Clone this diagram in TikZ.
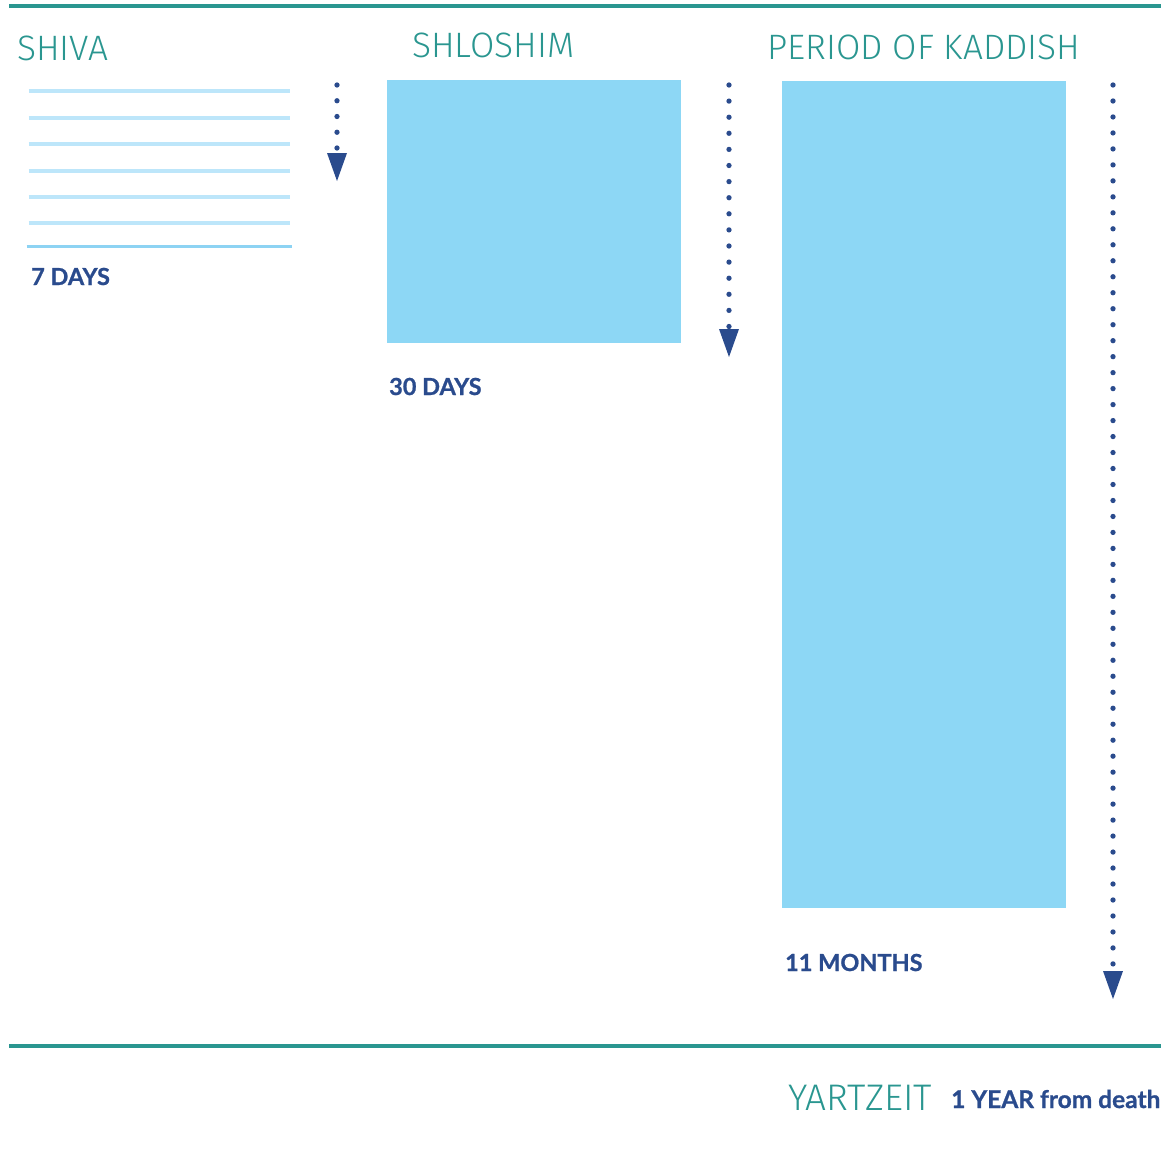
\documentclass[tikz,border=0pt]{standalone}
\usepackage{fontspec}
\setmainfont{Fira Sans}
\newfontfamily\thinfont{Fira Sans Light}
\newfontfamily\heavyfont{Lato}[BoldFeatures={FakeBold=0.9}]
\usetikzlibrary{arrows.meta,positioning}
\definecolor{kteal}{HTML}{2A9690}
\definecolor{kblue}{HTML}{2A4B8D}
\definecolor{kpale}{HTML}{BDE6FA}
\definecolor{kline}{HTML}{8DD3F3}
\definecolor{kbox}{HTML}{8DD7F5}
\begin{document}
\begin{tikzpicture}[
                    x=1pt,y=-1pt,
                    >=latex,
                    title/.style={anchor=base west,inner sep=0pt,text=kteal,font=\thinfont\fontsize{35.3}{35}\selectfont},
                    span/.style={anchor=base west,inner sep=0pt,text=kblue,font=\heavyfont\bfseries\fontsize{23.5}{24}\selectfont},
                    period/.style={fill=kbox,draw=none,inner sep=0pt,anchor=north west},
                    rule/.style={kteal,line width=4.5pt},
                    dayline/.style={kpale,line width=4pt},
                    dotarrow/.style={kblue,line width=5.3pt,line cap=round,dash pattern=on 0pt off #1,
                        -{Triangle[length=28pt,width=20pt,line width=0pt]}}
                ]
                \useasboundingbox (0,0) rectangle (1161,1153);
                % Blocks
                \node [title] (shiva) at (17,61) {SHIVA};
                \node [title] (shloshim) at (412,58) {SHLOSHIM};
                \node [title] (kaddish) at (767,60) {PERIOD OF KADDISH};
                \node [period,minimum width=294pt,minimum height=263pt] (shloshimbox) at (387,80) {};
                \node [period,minimum width=284pt,minimum height=827pt] (kaddishbox) at (782,81) {};
                \node [span] (sevendays) at (31,285) {7 DAYS};
                \node [span] (thirtydays) at (389,395) {30 DAYS};
                \node [span] (elevenmonths) at (785,971) {11 MONTHS};
                \node [title,font=\thinfont\fontsize{37}{37}\selectfont] (yartzeit) at (788,1110) {YARTZEIT};
                \node [span,font=\heavyfont\bfseries\fontsize{24.5}{25}\selectfont] (oneyear) at (951,1108) {1 YEAR from death};

                % Shiva days
                \foreach \y in {91.5,117.8,144.2,170.6,197,223.3}
                    \draw [dayline] (28.5,\y) -- (289.5,\y);
                \draw [kline,line width=2.5pt] (26.5,246.5) -- (291.5,246.5);

                % Rules
                \coordinate (topl) at (9,6);
                \coordinate (topr) at (1161,6);
                \coordinate (botl) at (9,1046);
                \coordinate (botr) at (1161,1046);
                \draw [rule] (topl) -- (topr);
                \draw [rule] (botl) -- (botr);

                % Connections
                \coordinate (s1) at (337,85);
                \coordinate (e1) at (337,181);
                \coordinate (s2) at (729,85);
                \coordinate (e2) at (729,357);
                \coordinate (s3) at (1113,85);
                \coordinate (e3) at (1113,999);
                \draw [dotarrow=15.75pt] (s1) -- (e1);
                \draw [dotarrow=16.1pt] (s2) -- (e2);
                \draw [dotarrow=15.98pt] (s3) -- (e3);
            \end{tikzpicture}
\end{document}
